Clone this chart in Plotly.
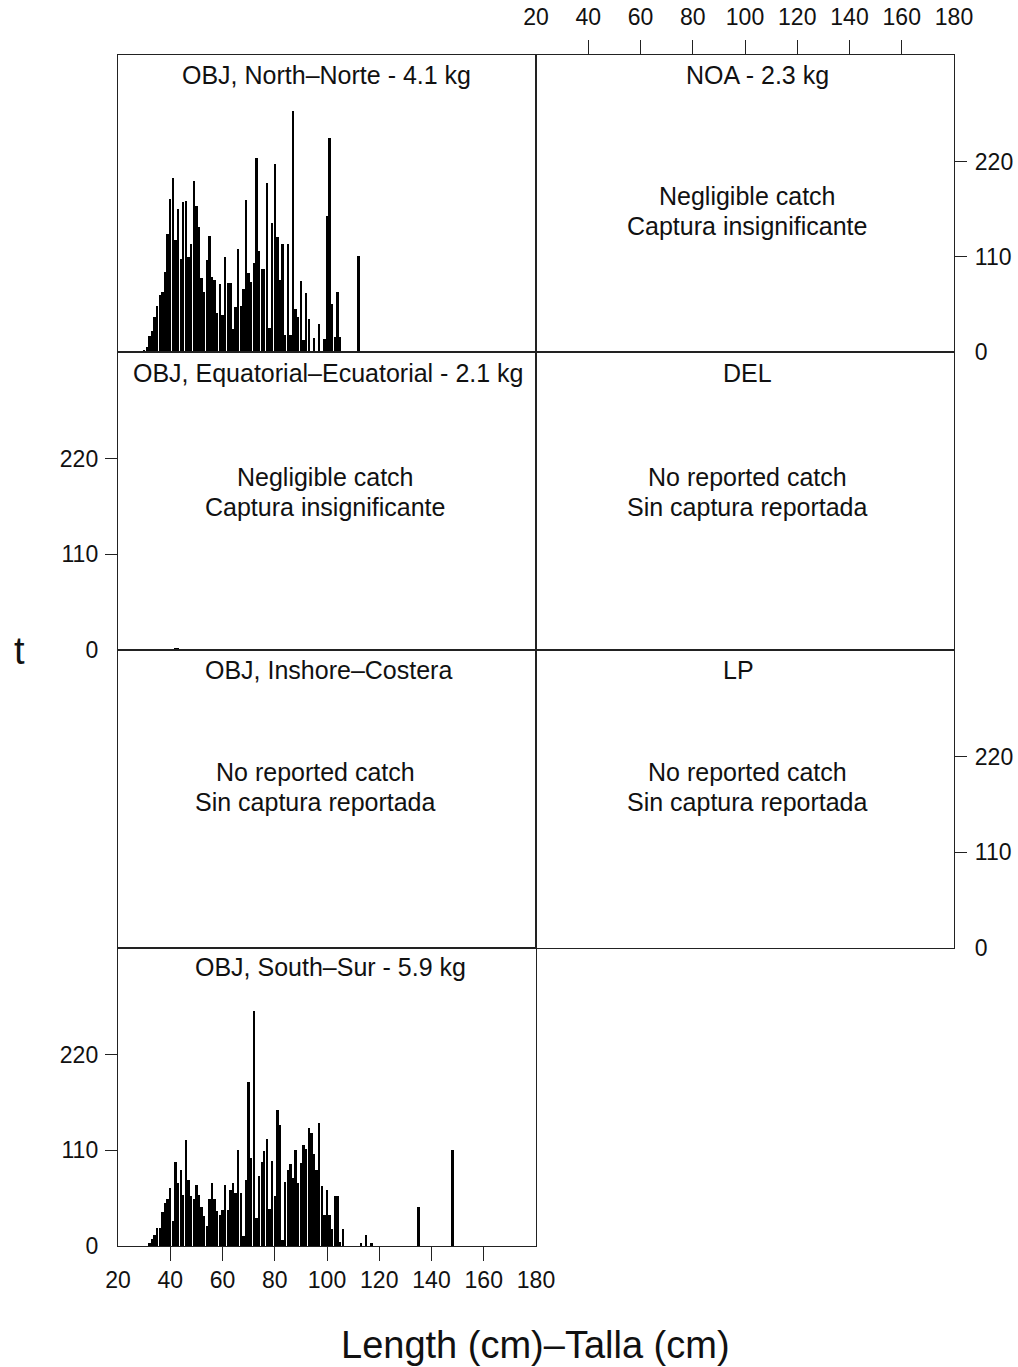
import plotly.graph_objects as go

FIG_W, FIG_H = 1018, 1367

# ---- data: catch (t) by 1-cm length bin -------------------------------
north_cm = list(range(30, 113))
north_t = [2, 6, 18, 24, 41, 53, 66, 69, 92, 136,          # 30-39
           177, 201, 129, 165, 107, 173, 174, 110, 125, 198,  # 40-49
           169, 144, 85, 69, 106, 134, 87, 83, 45, 78,        # 50-59
           43, 110, 80, 80, 27, 52, 119, 53, 73, 176,         # 60-69
           91, 81, 103, 224, 117, 96, 96, 195, 28, 149,       # 70-79
           217, 133, 83, 125, 20, 125, 20, 278, 50, 41,       # 80-89
           82, 14, 68, 38, 0, 16, 0, 32, 0, 15,               # 90-99
           157, 247, 56, 17, 69, 17, 0, 0, 0, 0,              # 100-109
           0, 0, 111]                                         # 110-112

south_cm = list(range(32, 107)) + [113, 115, 117, 135, 148]
south_t = [4, 8, 13, 21, 21, 39, 49, 54,                      # 32-39
           67, 29, 97, 73, 87, 59, 122, 76, 57, 54,           # 40-49
           70, 59, 45, 34, 23, 54, 73, 54, 40, 36,            # 50-59
           41, 70, 41, 64, 73, 61, 111, 61, 11, 76,           # 60-69
           189, 101, 270, 32, 81, 97, 109, 123, 43, 98,       # 70-79
           58, 156, 139, 7, 74, 87, 94, 78, 111, 72,          # 80-89
           96, 116, 112, 136, 130, 106, 87, 142, 69, 36,      # 90-99
           64, 36, 20, 58, 58, 5, 19,                         # 100-106
           3, 13, 3, 45, 110]                                 # outliers

equatorial_cm = [41, 42, 43, 44]
equatorial_t = [1, 2, 2, 1]

x_tick_labels = [20, 40, 60, 80, 100, 120, 140, 160, 180]
x_tick_marks = [40, 60, 80, 100, 120, 140, 160]
y_tick_labels = [0, 110, 220]
y_tick_marks = [110, 220]

strip_titles = ["OBJ, North\u2013Norte - 4.1 kg", "NOA - 2.3 kg",
                "OBJ, Equatorial\u2013Ecuatorial - 2.1 kg", "DEL",
                "OBJ, Inshore\u2013Costera", "LP",
                "OBJ, South\u2013Sur - 5.9 kg"]
negligible = ["Negligible catch", "Captura insignificante"]
no_catch = ["No reported catch", "Sin captura reportada"]

# ---- styling -----------------------------------------------------------
FONT = "Liberation Sans, Arial, Helvetica, sans-serif"
INK = "#111111"
LINE = "#222222"
TICK_SIZE = 23

# panel frame edges, in pixels
col_px = [(118, 536), (536, 954)]
row_px = [(55, 352), (352, 650), (650, 948), (948, 1246)]


def xdom(c):
    a, b = col_px[c]
    return [a / FIG_W, b / FIG_W]


def ydom(r):
    a, b = row_px[r]
    return [1 - b / FIG_H, 1 - a / FIG_H]


def px(x):
    return x / FIG_W


def py(y):
    return 1 - y / FIG_H


panels = [
    dict(row=0, col=0, x=north_cm, y=north_t, xside=None, yside=None),
    dict(row=0, col=1, x=[], y=[], xside="top", yside="right"),
    dict(row=1, col=0, x=equatorial_cm, y=equatorial_t, xside=None, yside="left"),
    dict(row=1, col=1, x=[], y=[], xside=None, yside=None),
    dict(row=2, col=0, x=[], y=[], xside=None, yside=None),
    dict(row=2, col=1, x=[], y=[], xside=None, yside="right"),
    dict(row=3, col=0, x=south_cm, y=south_t, xside="bottom", yside="left"),
]

# distance of tick labels from the frame (transparent major ticks)
label_gap = {"top": 20, "bottom": 13, "left": 14, "right": 15}

fig = go.Figure()
layout_axes = {}

for i, p in enumerate(panels, start=1):
    xname = "x" if i == 1 else f"x{i}"
    yname = "y" if i == 1 else f"y{i}"
    fig.add_trace(go.Bar(
        x=p["x"], y=p["y"], xaxis=xname, yaxis=yname, width=0.9,
        marker=dict(color="black", line=dict(width=0)),
        hoverinfo="skip",
    ))

    frame = dict(showline=True, mirror=True, linecolor=LINE, linewidth=1.4,
                 showgrid=False, zeroline=False, fixedrange=True,
                 automargin=False)

    xa = dict(frame, domain=xdom(p["col"]), range=[20, 180], anchor=yname)
    if p["xside"]:
        xa.update(side=p["xside"], tickmode="array", tickvals=x_tick_labels,
                  ticks="outside", ticklen=label_gap[p["xside"]],
                  tickcolor="rgba(0,0,0,0)",
                  tickfont=dict(family=FONT, size=TICK_SIZE, color=INK),
                  minor=dict(tickmode="array", tickvals=x_tick_marks,
                             ticks="outside", ticklen=14, tickwidth=1.4,
                             tickcolor=LINE))
    else:
        xa.update(showticklabels=False, ticks="")

    ya = dict(frame, domain=ydom(p["row"]), range=[0, 343], anchor=xname)
    if p["yside"]:
        ya.update(side=p["yside"], tickmode="array", tickvals=y_tick_labels,
                  ticks="outside", ticklen=label_gap[p["yside"]],
                  tickcolor="rgba(0,0,0,0)",
                  tickfont=dict(family=FONT, size=TICK_SIZE, color=INK),
                  minor=dict(tickmode="array", tickvals=y_tick_marks,
                             ticks="outside", ticklen=12, tickwidth=1.4,
                             tickcolor=LINE))
    else:
        ya.update(showticklabels=False, ticks="")

    layout_axes["xaxis" if i == 1 else f"xaxis{i}"] = xa
    layout_axes["yaxis" if i == 1 else f"yaxis{i}"] = ya

annotations = []


def label(text, x, y, size=25):
    annotations.append(dict(text=text, x=px(x), y=py(y), xref="paper",
                            yref="paper", xanchor="center", yanchor="middle",
                            showarrow=False,
                            font=dict(family=FONT, size=size, color=INK)))


# strip titles across the top of each panel
title_pos = [(326, 75), (757, 75), (328, 373), (747, 373),
             (328, 670), (738, 670), (330, 967)]
for t, (x, y) in zip(strip_titles, title_pos):
    label(t, x, y)

# notes for panels without a histogram
for (x, y) in [(747, 196), (325, 477)]:
    label(negligible[0], x, y)
    label(negligible[1], x, y + 30)
for (x, y) in [(747, 477), (315, 772), (747, 772)]:
    label(no_catch[0], x, y)
    label(no_catch[1], x, y + 30)

# axis titles
label("Length (cm)\u2013Talla (cm)", 535, 1345, size=38)
label("t", 19, 651, size=38)

fig.update_layout(
    width=FIG_W, height=FIG_H,
    margin=dict(l=0, r=0, t=0, b=0),
    paper_bgcolor="white", plot_bgcolor="white",
    showlegend=False, bargap=0,
    annotations=annotations,
    **layout_axes,
)

fig.write_html("out.html")
